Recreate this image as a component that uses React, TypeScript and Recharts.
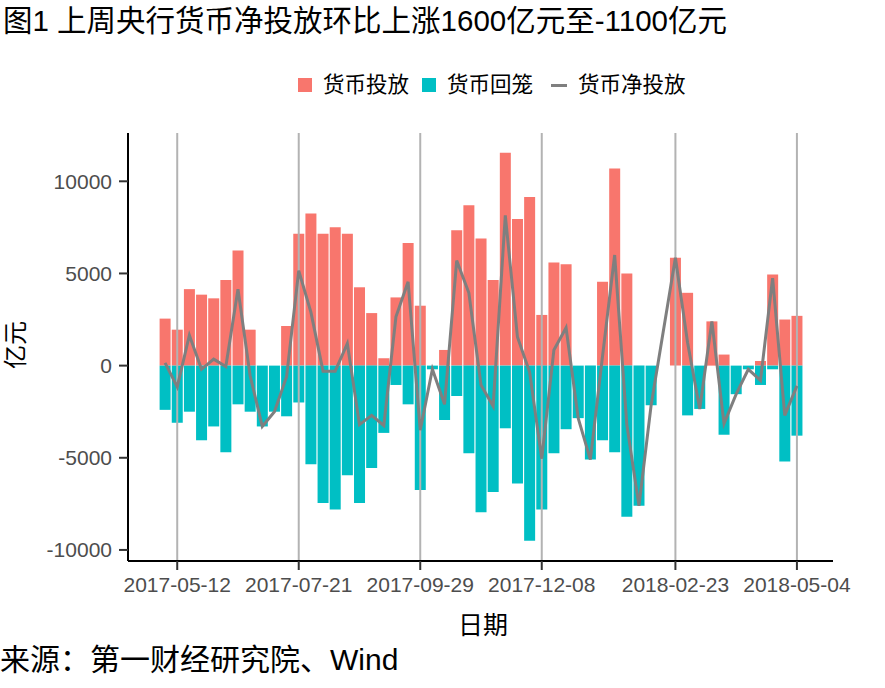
import React from "react";
import {
  Bar,
  ComposedChart,
  Line,
  ReferenceLine,
  XAxis,
  YAxis,
} from "recharts";

// weekly dates (2018-02-16 Spring Festival week has no data)
const dates = [
  "2017-05-05", "2017-05-12", "2017-05-19", "2017-05-26", "2017-06-02",
  "2017-06-09", "2017-06-16", "2017-06-23", "2017-06-30", "2017-07-07",
  "2017-07-14", "2017-07-21", "2017-07-28", "2017-08-04", "2017-08-11",
  "2017-08-18", "2017-08-25", "2017-09-01", "2017-09-08", "2017-09-15",
  "2017-09-22", "2017-09-29", "2017-10-06", "2017-10-13", "2017-10-20",
  "2017-10-27", "2017-11-03", "2017-11-10", "2017-11-17", "2017-11-24",
  "2017-12-01", "2017-12-08", "2017-12-15", "2017-12-22", "2017-12-29",
  "2018-01-05", "2018-01-12", "2018-01-19", "2018-01-26", "2018-02-02",
  "2018-02-09", "2018-02-16", "2018-02-23", "2018-03-02", "2018-03-09",
  "2018-03-16", "2018-03-23", "2018-03-30", "2018-04-06", "2018-04-13",
  "2018-04-20", "2018-04-27", "2018-05-04",
];

// 货币投放
const injection = [
  2550, 1950, 4150, 3850, 3650, 4650, 6250, 1950, 0, 0,
  2150, 7150, 8250, 7150, 7500, 7150, 4250, 2850, 400, 3700,
  6650, 3250, 0, 850, 7350, 8700, 6900, 4650, 11550, 7950,
  9150, 2750, 5600, 5500, 0, 0, 4550, 10700, 5000, 0,
  0, null, 5850, 3950, 0, 2400, 600, 0, 0, 250,
  4950, 2500, 2700,
];

// 货币回笼
const withdrawal = [
  -2400, -3100, -2500, -4050, -3300, -4700, -2100, -2500, -3300, -2500,
  -2750, -2000, -5350, -7450, -7800, -5950, -7450, -5550, -3650, -1050,
  -2100, -6750, -200, -2950, -1650, -4750, -7950, -6850, -3400, -6400,
  -9500, -7800, -4750, -3450, -2850, -5100, -4050, -4700, -8200, -7600,
  -2150, null, 0, -2700, -2350, 0, -3750, -1550, -200, -1050,
  -200, -5200, -3800,
];

// 货币净投放
const netInjection = [
  150, -1150, 1650, -200, 350, -50, 4150, -550, -3300, -2500,
  -600, 5150, 2900, -300, -300, 1200, -3200, -2700, -3250, 2650,
  4550, -3500, -200, -2100, 5700, 3950, -1050, -2200, 8150, 1550,
  -350, -5050, 850, 2050, -2850, -5100, 500, 6000, -3200, -7600,
  -2150, null, 5850, 1250, -2350, 2400, -3150, -1550, -200, -800,
  4750, -2700, -1100,
];

const xTicks = [
  "2017-05-12", "2017-07-21", "2017-09-29", "2017-12-08", "2018-02-23", "2018-05-04",
];
const yTicks = [-10000, -5000, 0, 5000, 10000];

const data = dates.map((d, i) => ({
  date: d,
  injection: injection[i],
  withdrawal: withdrawal[i],
  net: netInjection[i],
}));

const RED = "#F8766D";
const CYAN = "#00BFC4";
const GREY = "#7f7f7f";
const LATIN = "'Liberation Sans', Arial, 'Noto Sans CJK SC', sans-serif";
const CJK = "'Liberation Sans', 'Noto Sans CJK SC', sans-serif";

export default function App() {
  return (
    <div
      style={{
        position: "absolute",
        left: 0,
        top: 0,
        width: 885,
        height: 688,
        background: "#fff",
        fontFamily: CJK,
        color: "#000",
      }}
    >
      <div style={{ position: "absolute", left: 3, top: 3, fontSize: 29.5, lineHeight: "36px", whiteSpace: "nowrap" }}>
        图1 上周央行货币净投放环比上涨1600亿元至-1100亿元
      </div>

      {/* legend */}
      <div style={{ position: "absolute", left: 298, top: 78, width: 14, height: 14, background: RED }} />
      <div style={{ position: "absolute", left: 323, top: 72, fontSize: 21.5, lineHeight: "26px", whiteSpace: "nowrap" }}>
        货币投放
      </div>
      <div style={{ position: "absolute", left: 422, top: 78, width: 14, height: 14, background: CYAN }} />
      <div style={{ position: "absolute", left: 447, top: 72, fontSize: 21.5, lineHeight: "26px", whiteSpace: "nowrap" }}>
        货币回笼
      </div>
      <div style={{ position: "absolute", left: 551, top: 83.5, width: 16, height: 3, background: GREY }} />
      <div style={{ position: "absolute", left: 578, top: 72, fontSize: 21.5, lineHeight: "26px", whiteSpace: "nowrap" }}>
        货币净投放
      </div>

      <div style={{ position: "absolute", left: 0, top: 0 }}>
        <ComposedChart
          width={885}
          height={688}
          data={data}
          stackOffset="sign"
          barCategoryGap="5%"
          margin={{ top: 133, right: 52, bottom: 87, left: 58 }}
        >
          <XAxis
            dataKey="date"
            ticks={xTicks}
            interval={0}
            padding={{ left: 31, right: 30 }}
            height={40}
            tickSize={9}
            tickMargin={7}
            axisLine={{ stroke: "#000", strokeWidth: 2 }}
            tickLine={{ stroke: "#333", strokeWidth: 2 }}
            tick={{ fill: "#4d4d4d", fontSize: 21, fontFamily: LATIN }}
          />
          <YAxis
            type="number"
            domain={[-10600, 12620]}
            ticks={yTicks}
            allowDataOverflow
            width={70}
            tickSize={9}
            tickMargin={7}
            axisLine={{ stroke: "#000", strokeWidth: 2 }}
            tickLine={{ stroke: "#333", strokeWidth: 2 }}
            tick={{ fill: "#4d4d4d", fontSize: 21, fontFamily: LATIN }}
          />
          {xTicks.map((t) => (
            <ReferenceLine key={t} x={t} stroke="#b3b3b3" strokeWidth={2} />
          ))}
          <Bar dataKey="injection" stackId="a" fill={RED} isAnimationActive={false} />
          <Bar dataKey="withdrawal" stackId="a" fill={CYAN} isAnimationActive={false} />
          <Line
            type="linear"
            dataKey="net"
            stroke={GREY}
            strokeWidth={3}
            dot={false}
            activeDot={false}
            connectNulls
            isAnimationActive={false}
          />
        </ComposedChart>
      </div>

      <div
        style={{
          position: "absolute",
          left: 16,
          top: 345,
          transform: "translate(-50%, -50%) rotate(-90deg)",
          fontSize: 24,
          lineHeight: "28px",
          whiteSpace: "nowrap",
        }}
      >
        亿元
      </div>
      <div
        style={{
          position: "absolute",
          left: 483,
          top: 625,
          transform: "translate(-50%, -50%)",
          fontSize: 25,
          lineHeight: "30px",
          whiteSpace: "nowrap",
        }}
      >
        日期
      </div>
      <div style={{ position: "absolute", left: 0, top: 642, fontSize: 30, lineHeight: "36px", whiteSpace: "nowrap" }}>
        来源：第一财经研究院、Wind
      </div>
    </div>
  );
}
